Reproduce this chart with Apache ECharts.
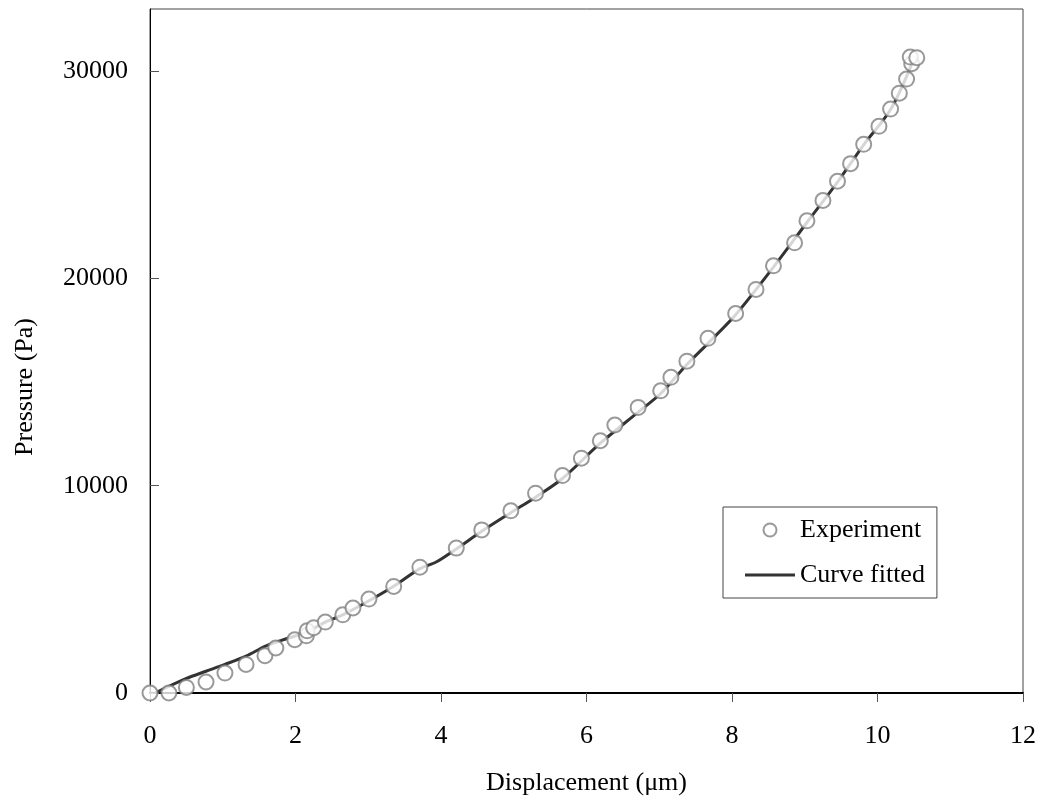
<!DOCTYPE html>
<html>
<head>
<meta charset="utf-8">
<script src="https://cdn.jsdelivr.net/npm/echarts@6/dist/echarts.min.js"></script>
<style>
  html, body { margin: 0; padding: 0; background: #fff; }
  #chart { width: 1042px; height: 801px; }
</style>
</head>
<body>
<div id="chart"></div>
<script>
// experiment points (displacement in um, pressure in Pa)
const expX = [0, 0.26, 0.50, 0.77, 1.03, 1.32, 1.58, 1.73, 1.99, 2.15, 2.16, 2.25, 2.41, 2.65, 2.79, 3.01, 3.35, 3.71,
  4.21, 4.56, 4.96, 5.30, 5.67, 5.93, 6.19, 6.39, 6.71, 7.02, 7.16, 7.38, 7.67, 8.05, 8.33, 8.57, 8.86, 9.03,
  9.25, 9.45, 9.63, 9.81, 10.02, 10.18, 10.30, 10.40, 10.47, 10.45, 10.54];
const expY = [0, 0, 270, 530, 960, 1380, 1800, 2170, 2570, 2760, 3000, 3150, 3420, 3770, 4100, 4530, 5140, 6070,
  6990, 7870, 8790, 9640, 10490, 11330, 12170, 12930, 13780, 14580, 15230, 16010, 17110, 18310, 19470, 20610, 21720, 22780,
  23760, 24690, 25540, 26470, 27340, 28170, 28940, 29620, 30360, 30680, 30650];

// fitted curve
const fitX = [0.07, 0.5, 0.77, 1.03, 1.32, 1.58, 1.73, 1.99, 2.16, 2.41, 2.65, 3.01, 3.35, 3.71, 3.94, 4.21, 4.56,
  4.96, 5.30, 5.67, 6.19, 6.71, 7.02, 7.38, 7.67, 8.05, 8.57, 9.03, 9.45, 9.81, 10.18, 10.47];
const fitY = [0, 700, 1050, 1380, 1780, 2250, 2450, 2750, 2950, 3420, 3770, 4450, 5150, 6000, 6330, 6950, 7800,
  8700, 9450, 10350, 12050, 13550, 14450, 15850, 16870, 18250, 20550, 22700, 24650, 26450, 28150, 30330];

const font = '"Liberation Serif", "Times New Roman", serif';

const chart = echarts.init(document.getElementById('chart'));
chart.setOption({
  animation: false,
  grid: {
    left: 150, right: 19, top: 9, bottom: 108,
    show: true, borderColor: '#444', borderWidth: 1
  },
  legend: {
    left: 723, top: 507,
    orient: 'vertical',
    padding: [10, 12, 10, 22],
    itemGap: 19,
    itemWidth: 50, itemHeight: 13,
    borderColor: '#444', borderWidth: 1,
    textStyle: { fontFamily: font, fontSize: 26, color: '#000', lineHeight: 26 },
    data: [
      'Experiment',
      { name: 'Curve fitted', icon: 'path://M0,0L50,0L50,3L0,3Z', itemStyle: { color: '#333', borderWidth: 0 } }
    ]
  },
  xAxis: {
    type: 'value', min: 0, max: 12, interval: 2,
    name: 'Displacement (\u03bcm)', nameLocation: 'middle', nameGap: 77,
    nameTextStyle: { fontFamily: font, fontSize: 26, color: '#000' },
    axisLine: { lineStyle: { color: '#000', width: 2 } },
    axisTick: { length: 9, lineStyle: { color: '#555' } },
    axisLabel: { margin: 30, fontFamily: font, fontSize: 26, color: '#000' },
    splitLine: { show: false }
  },
  yAxis: {
    type: 'value', min: 0, max: 33000, interval: 10000,
    name: 'Pressure (Pa)', nameLocation: 'middle', nameGap: 112,
    nameTextStyle: { fontFamily: font, fontSize: 26, color: '#000', padding: [0, 72, 0, 0] },
    axisLine: { show: true, lineStyle: { color: '#000', width: 1 } },
    axisTick: { inside: true, length: 9, lineStyle: { color: '#555' } },
    axisLabel: {
      margin: 22, fontFamily: font, fontSize: 26, color: '#000', showMaxLabel: false,
      formatter: v => String(v)
    },
    splitLine: { show: false }
  },
  series: [
    {
      name: 'Curve fitted',
      type: 'line',
      data: fitX.map((x, i) => [x, fitY[i]]),
      symbol: 'none',
      smooth: 0.3,
      lineStyle: { color: '#333', width: 3 },
      itemStyle: { color: '#333' },
      z: 2
    },
    {
      name: 'Experiment',
      type: 'scatter',
      data: expX.map((x, i) => [x, expY[i]]),
      symbol: 'circle',
      symbolSize: 15,
      itemStyle: { color: '#fff', borderColor: '#808080', borderWidth: 2 },
      z: 3
    }
  ]
});
</script>
</body>
</html>
